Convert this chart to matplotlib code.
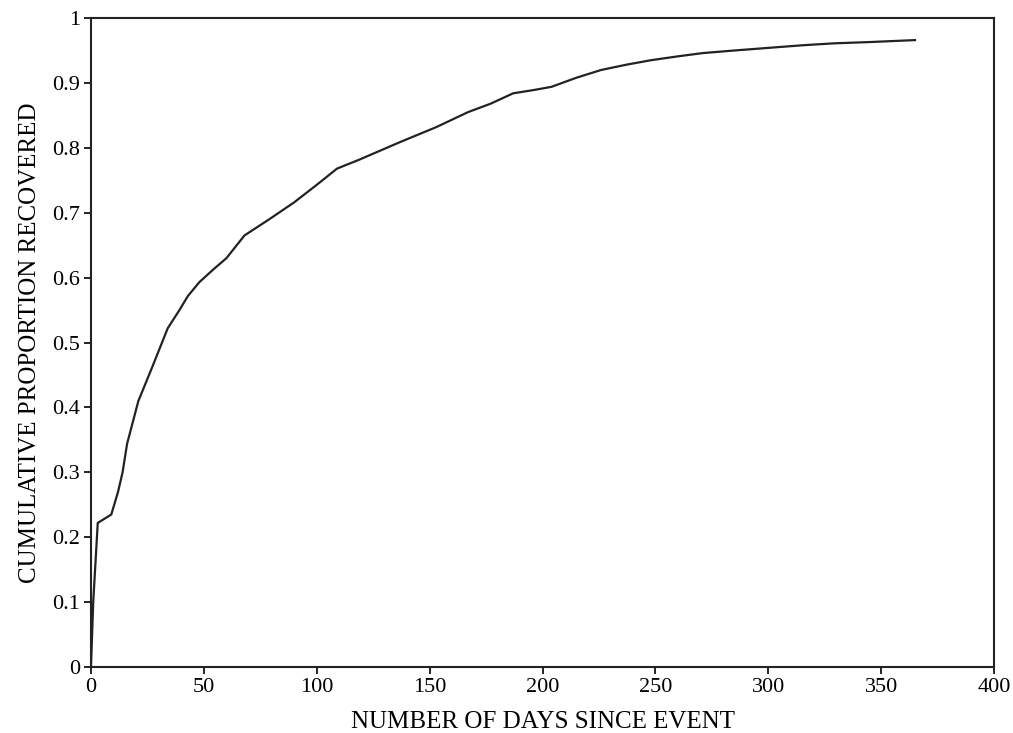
import matplotlib.pyplot as plt

# Values
days = [0, 1, 3, 9, 12, 14, 16, 21, 27, 34, 39, 43, 48, 54, 60, 68, 79, 90,
        100, 109, 119, 137, 153, 167, 177, 187, 196, 204, 215, 226, 237, 248,
        260, 271, 285, 300, 315, 329, 345, 365]
recovered = [0, 0.10, 0.222, 0.235, 0.27, 0.30, 0.344, 0.41, 0.461, 0.522,
             0.549, 0.572, 0.593, 0.612, 0.63, 0.665, 0.69, 0.716, 0.743,
             0.768, 0.782, 0.809, 0.832, 0.855, 0.868, 0.884, 0.889, 0.894,
             0.908, 0.920, 0.928, 0.935, 0.941, 0.946, 0.950, 0.954, 0.958,
             0.961, 0.963, 0.966]

x_ticks = [0, 50, 100, 150, 200, 250, 300, 350, 400]
y_ticks = [0, 0.1, 0.2, 0.3, 0.4, 0.5, 0.6, 0.7, 0.8, 0.9, 1]
y_labels = ["0", "0.1", "0.2", "0.3", "0.4", "0.5", "0.6", "0.7", "0.8", "0.9", "1"]

plt.rcParams['font.family'] = ['Liberation Serif', 'DejaVu Serif']

fig = plt.figure(figsize=(10.13, 7.33), dpi=100)
ax = fig.add_axes([0.0898, 0.090, 0.8915, 0.8854])

ax.plot(days, recovered, color="#222222", linewidth=1.6)

ax.set_xlim(0, 400)
ax.set_ylim(0, 1)
ax.set_xticks(x_ticks)
ax.set_yticks(y_ticks)
ax.set_yticklabels(y_labels)
ax.tick_params(direction="out", length=5, width=1.2, labelsize=16,
               top=False, right=False, pad=3)
for spine in ax.spines.values():
    spine.set_linewidth(1.5)
    spine.set_color("#222222")

ax.set_xlabel("NUMBER OF DAYS SINCE EVENT", fontsize=18, labelpad=10)
ax.set_ylabel("CUMULATIVE PROPORTION RECOVERED", fontsize=18, labelpad=8)

fig.savefig("out.png", dpi=100)
